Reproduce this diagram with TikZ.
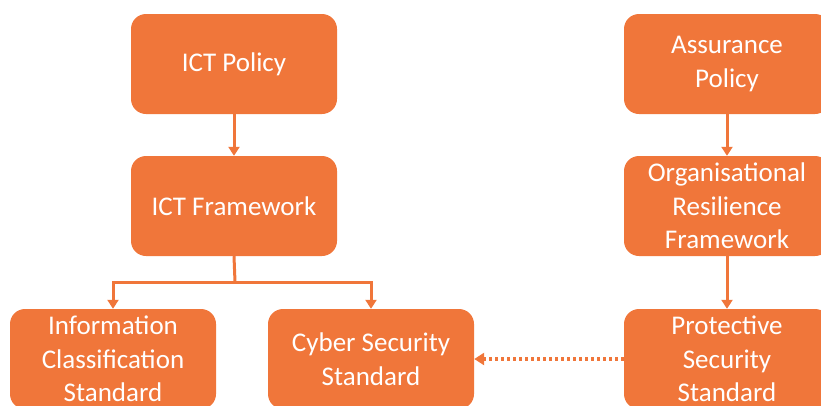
\documentclass[tikz,border=0pt]{standalone}
\usepackage{fontspec}
\setmainfont{Carlito}
\usetikzlibrary{arrows.meta}
\definecolor{orng}{RGB}{240,118,58}
\begin{document}
\begin{tikzpicture}[x=1pt,y=-1pt,
  box/.style={fill=orng,draw=none,rounded corners=15pt,minimum width=206pt,minimum height=100pt,
    text=white,align=center,font=\fontsize{27}{33.5}\selectfont,inner sep=0pt},
  conn/.style={draw=orng,line width=3pt,-{Triangle[width=11pt,length=9pt]}},
  dotconn/.style={draw=orng,line width=4pt,dash pattern=on 3pt off 3pt,-{Triangle[width=12pt,length=10pt]}}]
\useasboundingbox (0,0) rectangle (821,405);
\clip (0,0) rectangle (821,405);
\node[box] (ictp) at (234,64) {ICT Policy};
\node[box] (ictf) at (234,206) {ICT Framework};
\node[box] (info) at (113,359) {Information\\Classification\\Standard};
\node[box] (cyber) at (371,359) {Cyber Security\\Standard};
\node[box] (assp) at (727,64) {Assurance\\Policy};
\node[box] (org) at (727,206) {Organisational\\Resilience\\Framework};
\node[box] (prot) at (727,359) {Protective\\Security\\Standard};
\coordinate (br) at (235,282);
\draw[conn] (ictp) -- (ictf);
\draw[draw=orng,line width=3pt] (ictf.south) -- (br);
\draw[conn] (br) -| (info.north);
\draw[conn] (br) -| (cyber.north);
\draw[conn] (assp) -- (org);
\draw[conn] (org) -- (prot);
\draw[dotconn] (prot.west) -- (cyber.east);
\end{tikzpicture}
\end{document}
